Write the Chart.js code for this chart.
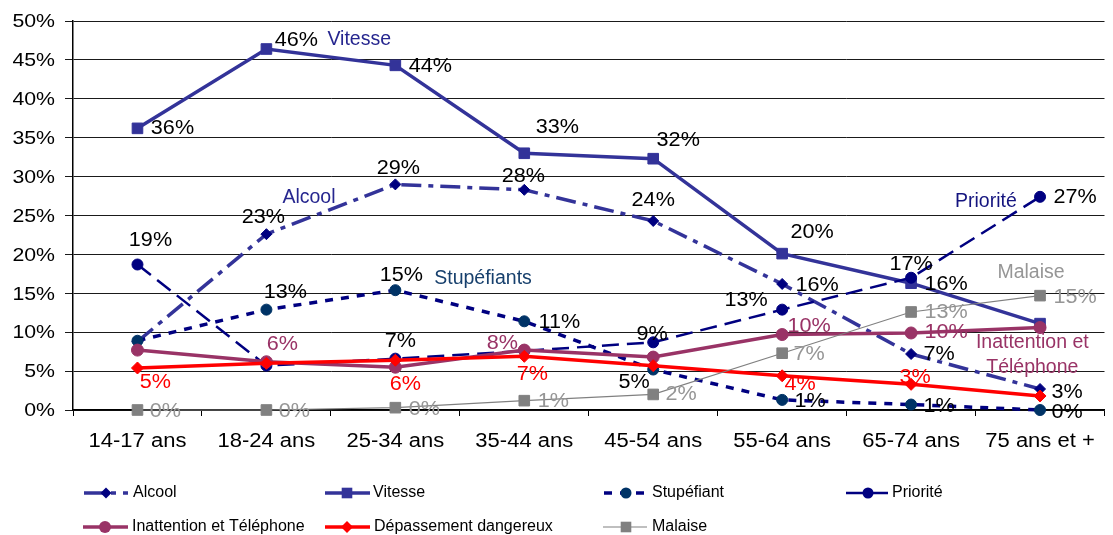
<!DOCTYPE html>
<html>
<head>
<meta charset="utf-8">
<script src="https://cdn.jsdelivr.net/npm/chart.js"></script>
<style>
  html, body { margin: 0; padding: 0; background: #fff; }
  canvas { display: block; }
</style>
</head>
<body>
<canvas id="grafico" width="1113" height="535"></canvas>
<script>
// données (en %)
const categories = ['14-17 ans', '18-24 ans', '25-34 ans', '35-44 ans', '45-54 ans', '55-64 ans', '65-74 ans', '75 ans et +'];
const alcool      = [8.8, 22.6, 29.0, 28.3, 24.3, 16.2, 7.2, 2.7];
const vitesse     = [36.2, 46.4, 44.3, 33.0, 32.3, 20.1, 16.3, 11.1];
const stupefiant  = [8.9, 12.9, 15.4, 11.4, 5.2, 1.3, 0.7, 0.0];
const priorite    = [18.7, 5.7, 6.6, 7.6, 8.7, 12.9, 17.0, 27.4];
const inattention = [7.7, 6.2, 5.5, 7.7, 6.8, 9.7, 9.9, 10.6];
const depassement = [5.4, 6.0, 6.4, 6.9, 5.7, 4.4, 3.3, 1.8];
const malaise     = [0.0, 0.0, 0.3, 1.2, 2.0, 7.3, 12.6, 14.7];
const nomsSeries  = ['Alcool', 'Vitesse', 'Stupéfiant', 'Priorité', 'Inattention et Téléphone', 'Dépassement dangereux', 'Malaise'];
const yMin = 0, yMax = 50, yPas = 5;

// décalage des étiquettes par rapport au point (null = pas d'étiquette)
const decalages = [
  [null, [-3, -17], [3, -16], [-1, -13], [0, -20], [35, 2], [28, 1], [27, 3]],
  [[35, 0], [30, -9], [35, 1], [33, -26], [25, -18], [30, -21], [35, 1], null],
  [null, [19, -17], [6, -15], [35, 1], [-19, 13], [28, 2], [28, 2], [27, 2]],
  [[13, -24], null, [5, -17], null, [-1, -8], [-36, -9], [0, -13], [35, 1]],
  [null, [16, -17], null, [-22, -7], null, [27, -8], [35, 0], null],
  [[18, 14], null, [10, 24], [8, 18], null, [18, 9], [4, -7], null],
  [[28, 1], [28, 1], [29, 2], [29, 1], [28, 0], [27, 1], [35, 1], [35, 2]]
];
const couleursEtiquettes = ['#000', '#000', '#000', '#000', '#993366', '#ff0000', '#969696'];

// noms de séries posés dans le graphique (index catégorie, valeur)
const nomsDansGraphe = [
  { t: ['Vitesse'], i: 1.72, v: 47.6, c: '#26268f' },
  { t: ['Alcool'], i: 1.33, v: 27.3, c: '#26268f' },
  { t: ['Stupéfiants'], i: 2.68, v: 16.9, c: '#17406d' },
  { t: ['Priorité'], i: 6.58, v: 26.8, c: '#14147f' },
  { t: ['Malaise'], i: 6.93, v: 17.6, c: '#969696' },
  { t: ['Inattention et', 'Téléphone'], i: 6.94, v: 8.7, c: '#993366' }
];

// légende (positions en pixels)
const legende = [
  { ds: 0, x0: 84, x1: 128, mx: 106, tx: 133, y: 493 },
  { ds: 1, x0: 325, x1: 370, mx: 347, tx: 373, y: 493 },
  { ds: 2, x0: 604, x1: 646, mx: 626, tx: 652, y: 493 },
  { ds: 3, x0: 846, x1: 889, mx: 868, tx: 892, y: 493 },
  { ds: 4, x0: 83, x1: 128, mx: 105, tx: 132, y: 527 },
  { ds: 5, x0: 325, x1: 370, mx: 347, tx: 374, y: 527 },
  { ds: 6, x0: 603, x1: 647, mx: 626, tx: 652, y: 527 }
];

const police = '"Liberation Sans", Arial, sans-serif';

function texte(ctx, s, x, y, taille, couleur, align, etire) {
  ctx.save();
  ctx.font = taille + 'px ' + police;
  ctx.fillStyle = couleur;
  ctx.textBaseline = 'middle';
  ctx.textAlign = align || 'center';
  ctx.translate(x, y);
  ctx.scale(etire || 1, 1);
  ctx.fillText(s, 0, 0);
  ctx.restore();
}

function marqueur(ctx, style, x, y, r, couleur) {
  ctx.save();
  ctx.fillStyle = couleur;
  ctx.beginPath();
  if (style === 'circle') {
    ctx.arc(x, y, r, 0, Math.PI * 2);
  } else if (style === 'rect') {
    const s = r * Math.SQRT1_2;
    ctx.rect(x - s, y - s, 2 * s, 2 * s);
  } else {
    ctx.moveTo(x, y - r); ctx.lineTo(x + r, y); ctx.lineTo(x, y + r); ctx.lineTo(x - r, y);
    ctx.closePath();
  }
  ctx.fill();
  ctx.restore();
}

const pluginTextes = {
  id: 'textes',
  beforeDraw(chart) {
    const ctx = chart.ctx;
    ctx.save();
    ctx.fillStyle = '#fff';
    ctx.fillRect(0, 0, chart.width, chart.height);
    ctx.restore();
  },
  afterDatasetsDraw(chart) {
    const ctx = chart.ctx;
    chart.data.datasets.forEach((ds, d) => {
      const meta = chart.getDatasetMeta(d);
      meta.data.forEach((pt, i) => {
        const dec = decalages[d][i];
        if (!dec) return;
        texte(ctx, Math.round(ds.data[i]) + '%', pt.x + dec[0], pt.y + dec[1], 20, couleursEtiquettes[d], 'center', 1.08);
      });
    });
    const xs = chart.scales.x, ys = chart.scales.y;
    nomsDansGraphe.forEach(n => {
      const x = xs.getPixelForValue(n.i);
      const y = ys.getPixelForValue(n.v);
      n.t.forEach((ligne, k) => texte(ctx, ligne, x, y + k * 25, 19.5, n.c, 'center', 1));
    });
  },
  afterDraw(chart) {
    const ctx = chart.ctx;
    const xs = chart.scales.x, ys = chart.scales.y;
    ys.ticks.forEach(t => {
      texte(ctx, t.value + '%', 55, ys.getPixelForValue(t.value) + 1, 19, '#000', 'right', 1.12);
    });
    chart.data.labels.forEach((lab, i) => {
      texte(ctx, lab, xs.getPixelForValue(i), chart.chartArea.bottom + 31, 20, '#000', 'center', 1.1);
    });
    legende.forEach(it => {
      const ds = chart.data.datasets[it.ds];
      ctx.save();
      ctx.strokeStyle = ds.borderColor;
      ctx.lineWidth = ds.borderWidth;
      ctx.setLineDash(ds.borderDash || []);
      ctx.beginPath();
      ctx.moveTo(it.x0, it.y);
      ctx.lineTo(it.x1, it.y);
      ctx.stroke();
      ctx.restore();
      marqueur(ctx, ds.pointStyle, it.mx, it.y, ds.pointRadius, ds.pointBackgroundColor);
      texte(ctx, nomsSeries[it.ds], it.tx, it.y, 16, '#000', 'left', 1);
    });
  }
};

function serie(i, data, couleur, largeur, tirets, forme, rayon, couleurPoint) {
  return {
    label: nomsSeries[i],
    data: data,
    borderColor: couleur,
    borderWidth: largeur,
    borderDash: tirets,
    pointStyle: forme,
    pointRadius: rayon,
    pointBackgroundColor: couleurPoint,
    pointBorderColor: couleurPoint,
    pointBorderWidth: 1,
    tension: 0,
    fill: false,
    clip: false,
    order: 7 - i
  };
}

new Chart(document.getElementById('grafico'), {
  type: 'line',
  data: {
    labels: categories,
    datasets: [
      serie(0, alcool, '#333399', 3.5, [20, 7, 5, 7], 'rectRot', 5.5, '#000080'),
      serie(1, vitesse, '#333399', 3.5, [], 'rect', 7.5, '#333399'),
      serie(2, stupefiant, '#000080', 3.5, [8, 8], 'circle', 5.5, '#003366'),
      serie(3, priorite, '#000080', 2.5, [17, 8], 'circle', 5.5, '#000080'),
      serie(4, inattention, '#993366', 3.5, [], 'circle', 6, '#993366'),
      serie(5, depassement, '#ff0000', 3.5, [], 'rectRot', 6, '#ff0000'),
      serie(6, malaise, '#808080', 1.2, [], 'rect', 7.5, '#808080')
    ]
  },
  options: {
    responsive: false,
    devicePixelRatio: 1,
    animation: false,
    layout: { padding: { top: 21, left: 0, right: 0, bottom: 75 } },
    plugins: { legend: { display: false }, tooltip: { enabled: false } },
    scales: {
      x: {
        offset: true,
        grid: { offset: true, drawOnChartArea: false, color: '#000', tickLength: 6 },
        border: { color: '#000', width: 1.5 },
        ticks: { color: 'rgba(0,0,0,0)', font: { size: 20 }, maxRotation: 0, autoSkip: false },
        afterFit: s => { s.height = 50; }
      },
      y: {
        min: yMin,
        max: yMax,
        ticks: { stepSize: yPas, color: 'rgba(0,0,0,0)', font: { size: 19 }, callback: v => v + '%' },
        grid: { color: '#1a1a1a', lineWidth: 1, tickLength: 8 },
        border: { color: '#000', width: 1.5 },
        afterFit: s => { s.width = 73; }
      }
    }
  },
  plugins: [pluginTextes]
});
</script>
</body>
</html>
